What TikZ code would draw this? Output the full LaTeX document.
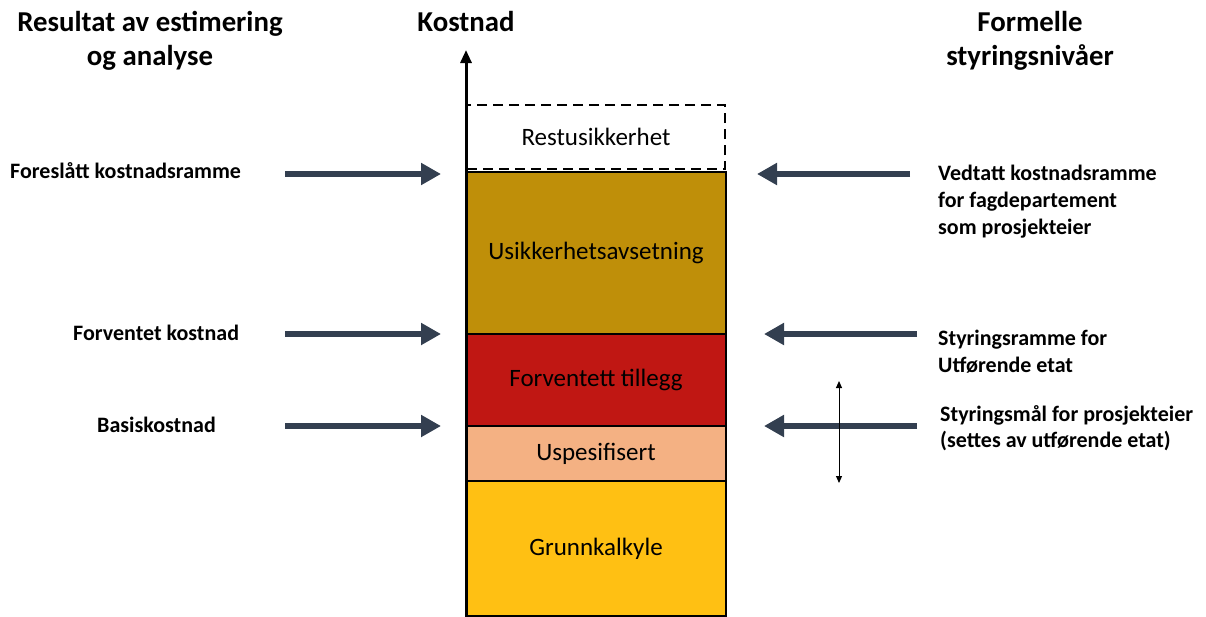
\documentclass[tikz,border=0pt]{standalone}
\usepackage{fontspec}
\setmainfont{Carlito}
\usetikzlibrary{arrows.meta}
\definecolor{usikc}{HTML}{BF8F09}
\definecolor{redc}{HTML}{C01713}
\definecolor{peachc}{HTML}{F4B183}
\definecolor{goldc}{HTML}{FFC013}
\definecolor{arrc}{HTML}{333F50}
\tikzset{
  layer/.style={draw=black, line width=2pt, minimum width=260pt, inner sep=0pt, font=\fontsize{25}{30}\selectfont},
  title/.style={font=\bfseries\fontsize{28.8}{34}\selectfont, align=center, inner sep=0pt},
  lab/.style={font=\bfseries\fontsize{22}{26.7}\selectfont, align=left, inner sep=0pt},
  bigarrow/.style={draw=arrc, line width=6pt, -{Triangle[length=20pt,width=21pt]}},
}
\begin{document}
\begin{tikzpicture}[x=1pt,y=-1pt]
\useasboundingbox (0,0) rectangle (1206,616);
% layers
\node[layer, fill=goldc, minimum height=135pt] (grunn) at (596,548.5) {Grunnkalkyle};
\node[layer, fill=peachc, minimum height=55pt] (uspes) at (596,453.5) {Uspesifisert};
\node[layer, fill=redc, minimum height=92pt] (fortil) at (596,380) {Forventett tillegg};
\node[layer, fill=usikc, minimum height=162pt] (usik) at (596,253) {Usikkerhetsavsetning};
\node[draw=black, dashed, dash pattern=on 10pt off 6pt, line width=2.5pt, minimum width=258pt, minimum height=64pt, inner sep=0pt, font=\fontsize{25}{30}\selectfont] (rest) at (596,137) {Restusikkerhet};
% axis
\coordinate (axtop) at (466,50);
\coordinate (axbot) at (466,616);
\draw[line width=3pt, -{Triangle[length=13pt,width=11pt]}] (axbot) -- (axtop);
% titles
\node[title, anchor=north] (t1) at (150,11) {Resultat av estimering\\og analyse};
\node[title, anchor=base] (t2) at (466,31) {Kostnad};
\node[title, anchor=north] (t3) at (1030,11) {Formelle\\styringsnivåer};
% left labels
\node[lab, anchor=base west] (l1) at (10,178) {Foreslått kostnadsramme};
\node[lab, anchor=base west] (l2) at (73,340) {Forventet kostnad};
\node[lab, anchor=base west] (l3) at (97,432) {Basiskostnad};
\coordinate (la1) at (285,174);
\coordinate (la2) at (285,334);
\coordinate (la3) at (285,426);
\draw[bigarrow] (la1) -- (441,174);
\draw[bigarrow] (la2) -- (441,334);
\draw[bigarrow] (la3) -- (441,426);
% right labels
\node[lab, anchor=north west] (r1) at (938,165) {Vedtatt kostnadsramme\\for fagdepartement\\som prosjekteier};
\node[lab, anchor=north west] (r2) at (938,330) {Styringsramme for\\Utførende etat};
\node[lab, anchor=north west] (r3) at (940,405) {Styringsmål for prosjekteier\\(settes av utførende etat)};
\coordinate (ra1) at (910,174);
\coordinate (ra2) at (917,334);
\coordinate (ra3) at (917,426);
\draw[bigarrow] (ra1) -- (757,174);
\draw[bigarrow] (ra2) -- (764,334);
\draw[bigarrow] (ra3) -- (764,426);
% double arrow
\coordinate (da1) at (839,381);
\coordinate (da2) at (839,483);
\draw[line width=1pt, {Triangle[length=7pt,width=6pt]}-{Triangle[length=7pt,width=6pt]}] (da1) -- (da2);
\end{tikzpicture}
\end{document}
